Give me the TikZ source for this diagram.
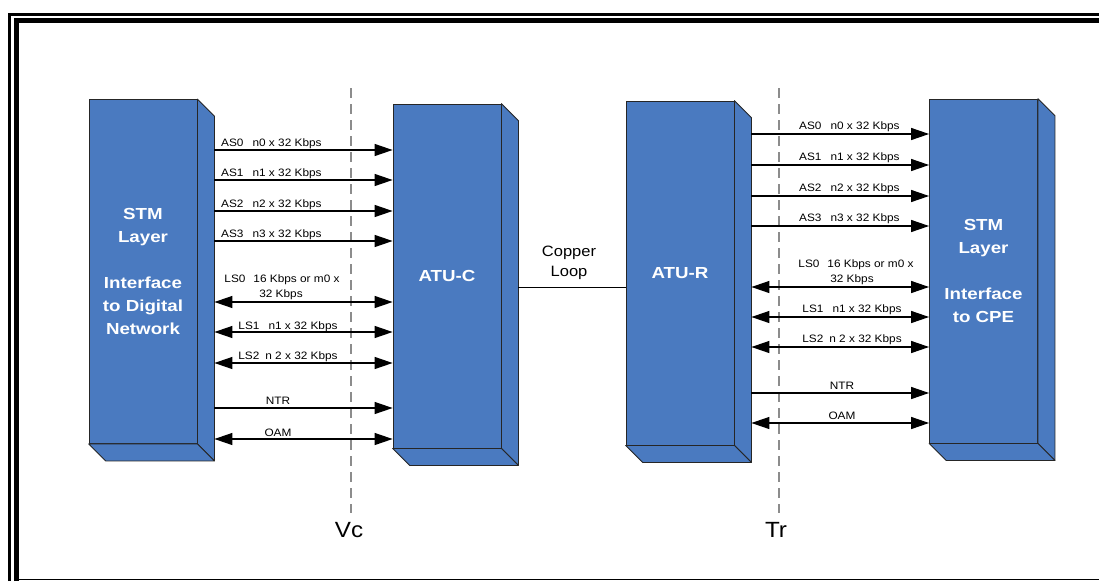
\documentclass[tikz,border=0pt]{standalone}
\usepackage{fontspec}
\setmainfont{Liberation Sans}[FakeStretch=1.1]
\newfontfamily\blockfont{Liberation Sans}[FakeStretch=1.17]
\usetikzlibrary{arrows.meta}
\definecolor{blk}{HTML}{4A7AC0}
\definecolor{dashgray}{HTML}{8C8C8C}
\newcommand\cubefaces[1]{%
  \filldraw[sideface] (#1.north east) -- ++(17,17) -- ([shift={(17,17)}]#1.south east) -- (#1.south east) -- cycle;
  \filldraw[sideface] (#1.south west) -- ++(17,17) -- ([shift={(17,17)}]#1.south east) -- (#1.south east) -- cycle;
  \coordinate (#1R) at ([xshift=17pt]#1.east);
}
\begin{document}
\begin{tikzpicture}[x=1pt,y=-1pt,
  blockbox/.style={draw=black!85, fill=blk, line width=0.8pt, minimum width=108pt,
    minimum height=344pt, inner sep=0pt, text=white, align=center,
    font=\blockfont\bfseries\fontsize{16}{23}\selectfont},
  sideface/.style={draw=black!85, fill=blk, line width=0.8pt, line join=round},
  flow/.style={line width=1.2pt, -{Triangle[length=18pt,width=12pt]}},
  bidir/.style={line width=1.2pt, {Triangle[length=18pt,width=12pt]}-{Triangle[length=18pt,width=12pt]}},
  lab/.style={inner sep=0pt, font=\fontsize{10.75}{13}\selectfont},
  dashline/.style={draw=dashgray, line width=1.3pt, dash pattern=on 10pt off 6pt},
  frame/.style={draw=black, line join=miter}]
\useasboundingbox (0,0) rectangle (1099,581);

% frame
\draw[frame, line width=3pt] (9.5,581) -- (9.5,14.5) -- (1099,14.5);
\draw[frame, line width=5pt] (16,581) -- (16,20.5) -- (1099,20.5);
\draw[frame, line width=1.6pt] (18.5,579.5) -- (1099,579.5);

% dashed reference lines
\coordinate (vtop) at (351,88);
\coordinate (vbot) at (351,513);
\coordinate (ttop) at (779,88);
\coordinate (tbot) at (779,513);
\draw[dashline] (vtop) -- (vbot);
\draw[dashline] (ttop) -- (tbot);
\node[font=\fontsize{22}{24}\selectfont, inner sep=0pt] (vc) at (349,530) {Vc};
\node[font=\fontsize{22}{24}\selectfont, inner sep=0pt] (tr) at (776,530) {Tr};

% blocks
\node[blockbox] (stmL) at (143,271.5) {STM\\Layer\\[23pt]Interface\\to Digital\\Network};
\cubefaces{stmL}
\node[blockbox] (atuC) at (447,276) {ATU-C};
\cubefaces{atuC}
\node[blockbox] (atuR) at (680,273) {ATU-R};
\cubefaces{atuR}
\node[blockbox] (stmR) at (983.5,271) {STM\\Layer\\[23pt]Interface\\to CPE};
\cubefaces{stmR}

% copper loop
\draw[line width=1pt] (atuCR |- 0,287) -- (atuR.west |- 0,287);
\node[font=\fontsize{15}{20}\selectfont, align=center, inner sep=0pt] (cl) at (569,263) {Copper\\Loop};

% left side arrows
\foreach \yy/\k in {150/0,180/1,211/2,241/3}{
  \draw[flow] (stmLR |- 0,\yy) -- (atuC.west |- 0,\yy);
  \node[lab, anchor=base west] (lA\k) at (221,\yy-4) {AS\k\hspace{9pt}n\k\ x 32 Kbps};
}
\draw[bidir] (stmLR |- 0,302) -- (atuC.west |- 0,302);
\node[lab, anchor=base] (lL0a) at (282,282) {LS0\hspace{8pt}16 Kbps or m0 x};
\node[lab, anchor=base] (lL0b) at (281,297) {32 Kbps};
\draw[bidir] (stmLR |- 0,332) -- (atuC.west |- 0,332);
\node[lab, anchor=base] (lL1) at (288,329) {LS1\hspace{9pt}n1 x 32 Kbps};
\draw[bidir] (stmLR |- 0,363) -- (atuC.west |- 0,363);
\node[lab, anchor=base] (lL2) at (288,359) {LS2\hspace{6pt}n 2 x 32 Kbps};
\draw[flow] (stmLR |- 0,408) -- (atuC.west |- 0,408);
\node[lab, anchor=base] (lN) at (278,404) {NTR};
\draw[bidir] (stmLR |- 0,439) -- (atuC.west |- 0,439);
\node[lab, anchor=base] (lO) at (278,436) {OAM};

% right side arrows
\foreach \yy/\k in {134/0,165/1,196/2,226/3}{
  \draw[flow] (atuRR |- 0,\yy) -- (stmR.west |- 0,\yy);
  \node[lab, anchor=base west] (rA\k) at (799,\yy-5) {AS\k\hspace{9pt}n\k\ x 32 Kbps};
}
\draw[bidir] (atuRR |- 0,287) -- (stmR.west |- 0,287);
\node[lab, anchor=base] (rL0a) at (856,267) {LS0\hspace{8pt}16 Kbps or m0 x};
\node[lab, anchor=base] (rL0b) at (852,282) {32 Kbps};
\draw[bidir] (atuRR |- 0,317) -- (stmR.west |- 0,317);
\node[lab, anchor=base] (rL1) at (852,312) {LS1\hspace{9pt}n1 x 32 Kbps};
\draw[bidir] (atuRR |- 0,347) -- (stmR.west |- 0,347);
\node[lab, anchor=base] (rL2) at (852,342) {LS2\hspace{6pt}n 2 x 32 Kbps};
\draw[flow] (atuRR |- 0,393) -- (stmR.west |- 0,393);
\node[lab, anchor=base] (rN) at (842,389) {NTR};
\draw[bidir] (atuRR |- 0,423) -- (stmR.west |- 0,423);
\node[lab, anchor=base] (rO) at (842,419) {OAM};
\end{tikzpicture}
\end{document}
